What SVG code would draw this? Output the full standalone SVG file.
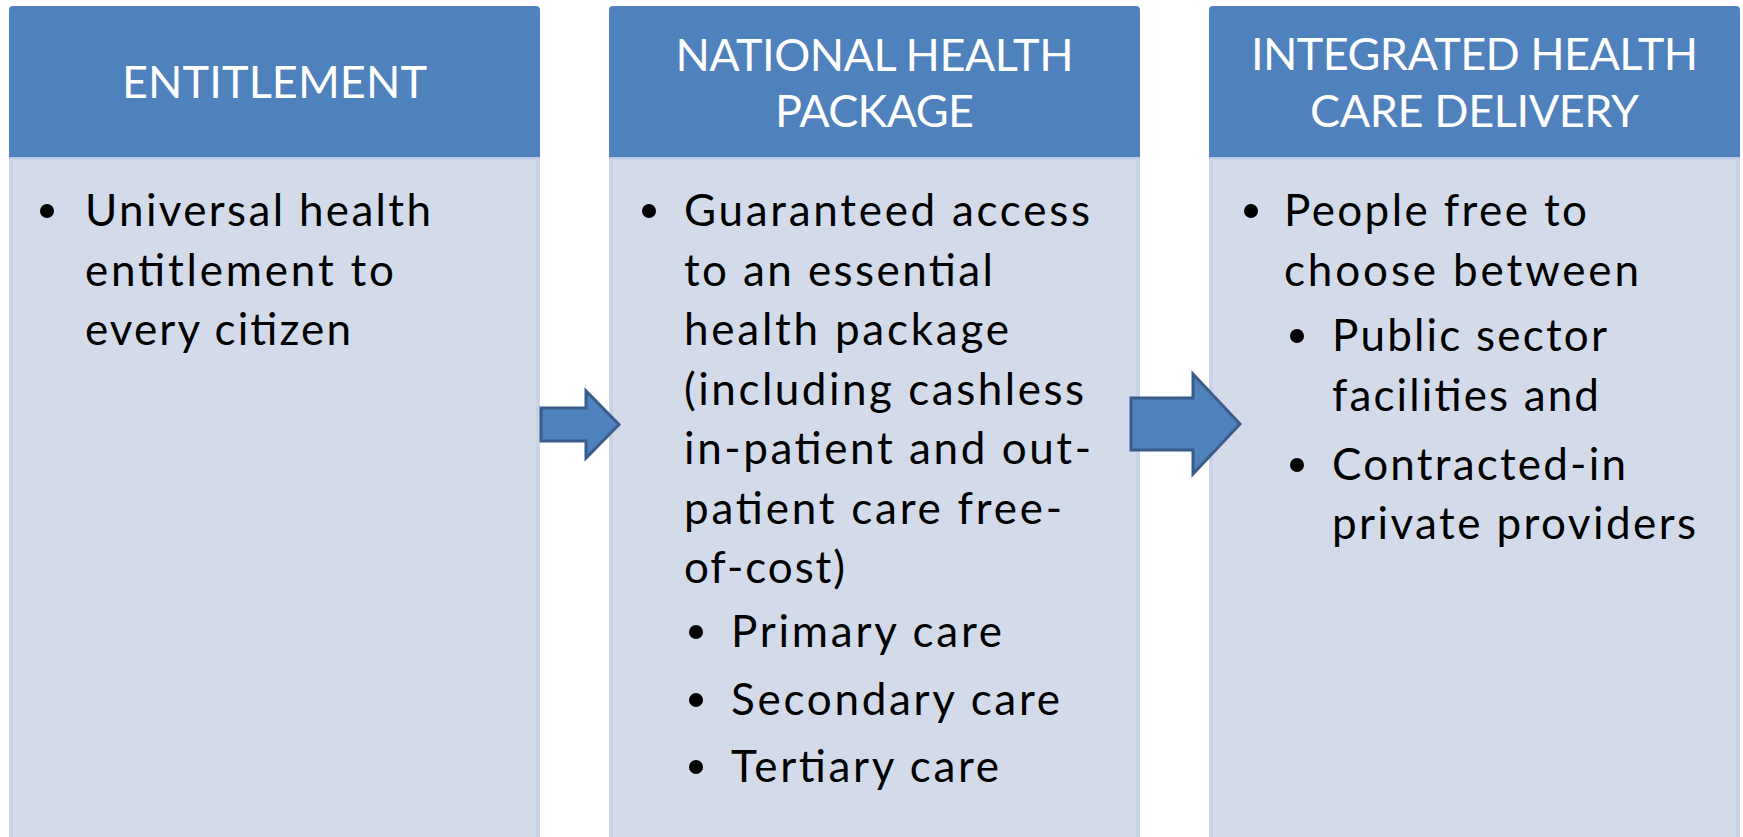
<svg xmlns="http://www.w3.org/2000/svg" width="1743" height="837" viewBox="0 0 1743 837">
<style>
.body{fill:#d3dbea;stroke:#c9d3e6;stroke-width:4}
.head{fill:#4f81bd}
.sep{stroke:#b9c9e0;stroke-width:2}
.ht{font-family:Lato,"Liberation Sans",sans-serif;font-size:45px;fill:#ffffff;text-anchor:middle}
.bt{font-family:Lato,"Liberation Sans",sans-serif;font-size:44px;fill:#000000}
.dot{fill:#000000}
.arrow{fill:#4f81bd;stroke:#385d8a;stroke-width:3;stroke-linejoin:miter}
</style>
<rect width="1743" height="837" fill="#ffffff"/>
<g id="node-entitlement">
<rect class="body" x="11" y="158" width="527" height="690"/>
<path class="head" d="M9 158 V10 Q9 6 13 6 H536 Q540 6 540 10 V158 Z"/>
<line class="sep" x1="9" y1="158" x2="540" y2="158"/>
<text class="ht" x="274.5" y="98" textLength="305">ENTITLEMENT</text>
<circle class="dot" cx="47" cy="211" r="7"/>
<text class="bt" x="85" y="226" textLength="346">Universal health</text>
<text class="bt" x="85" y="285.5" textLength="309">entitlement to</text>
<text class="bt" x="85" y="345" textLength="266">every citizen</text>
</g>
<g id="node-national">
<rect class="body" x="611" y="158" width="527" height="690"/>
<path class="head" d="M609 158 V10 Q609 6 613 6 H1136 Q1140 6 1140 10 V158 Z"/>
<line class="sep" x1="609" y1="158" x2="1140" y2="158"/>
<text class="ht" x="874.5" y="71" textLength="398">NATIONAL HEALTH</text>
<text class="ht" x="874.5" y="127" textLength="199">PACKAGE</text>
<circle class="dot" cx="649" cy="211" r="7"/>
<text class="bt" x="684" y="226" textLength="406">Guaranteed access</text>
<text class="bt" x="684" y="285.5" textLength="309">to an essential</text>
<text class="bt" x="684" y="345" textLength="325">health package</text>
<text class="bt" x="684" y="404.5" textLength="400">(including cashless</text>
<text class="bt" x="684" y="464" textLength="407">in-patient and out-</text>
<text class="bt" x="684" y="523.5" textLength="378">patient care free-</text>
<text class="bt" x="684" y="583" textLength="161">of-cost)</text>
<circle class="dot" cx="696" cy="632" r="7"/>
<text class="bt" x="731" y="647" textLength="271">Primary care</text>
<circle class="dot" cx="696" cy="700" r="7"/>
<text class="bt" x="731" y="715" textLength="329">Secondary care</text>
<circle class="dot" cx="696" cy="767" r="7"/>
<text class="bt" x="731" y="782" textLength="268">Tertiary care</text>
</g>
<g id="node-delivery">
<rect class="body" x="1211" y="158" width="527" height="690"/>
<path class="head" d="M1209 158 V10 Q1209 6 1213 6 H1736 Q1740 6 1740 10 V158 Z"/>
<line class="sep" x1="1209" y1="158" x2="1740" y2="158"/>
<text class="ht" x="1474.5" y="70" textLength="447">INTEGRATED HEALTH</text>
<text class="ht" x="1474.5" y="127" textLength="329">CARE DELIVERY</text>
<circle class="dot" cx="1251" cy="211" r="7"/>
<text class="bt" x="1284" y="226" textLength="303">People free to</text>
<text class="bt" x="1284" y="285.5" textLength="355">choose between</text>
<circle class="dot" cx="1297" cy="336" r="7"/>
<text class="bt" x="1332" y="351" textLength="275">Public sector</text>
<text class="bt" x="1332" y="411" textLength="267">facilities and</text>
<circle class="dot" cx="1297" cy="465" r="7"/>
<text class="bt" x="1332" y="480" textLength="294">Contracted-in</text>
<text class="bt" x="1332" y="539" textLength="364">private providers</text>
</g>
<g id="connectors">
<path class="arrow" d="M541 408 H586 V391 L619 424.5 L586 458 V441 H541 Z"/>
<path class="arrow" d="M1131 398 H1193 V374 L1240 424 L1193 474 V450 H1131 Z"/>
</g>
</svg>
